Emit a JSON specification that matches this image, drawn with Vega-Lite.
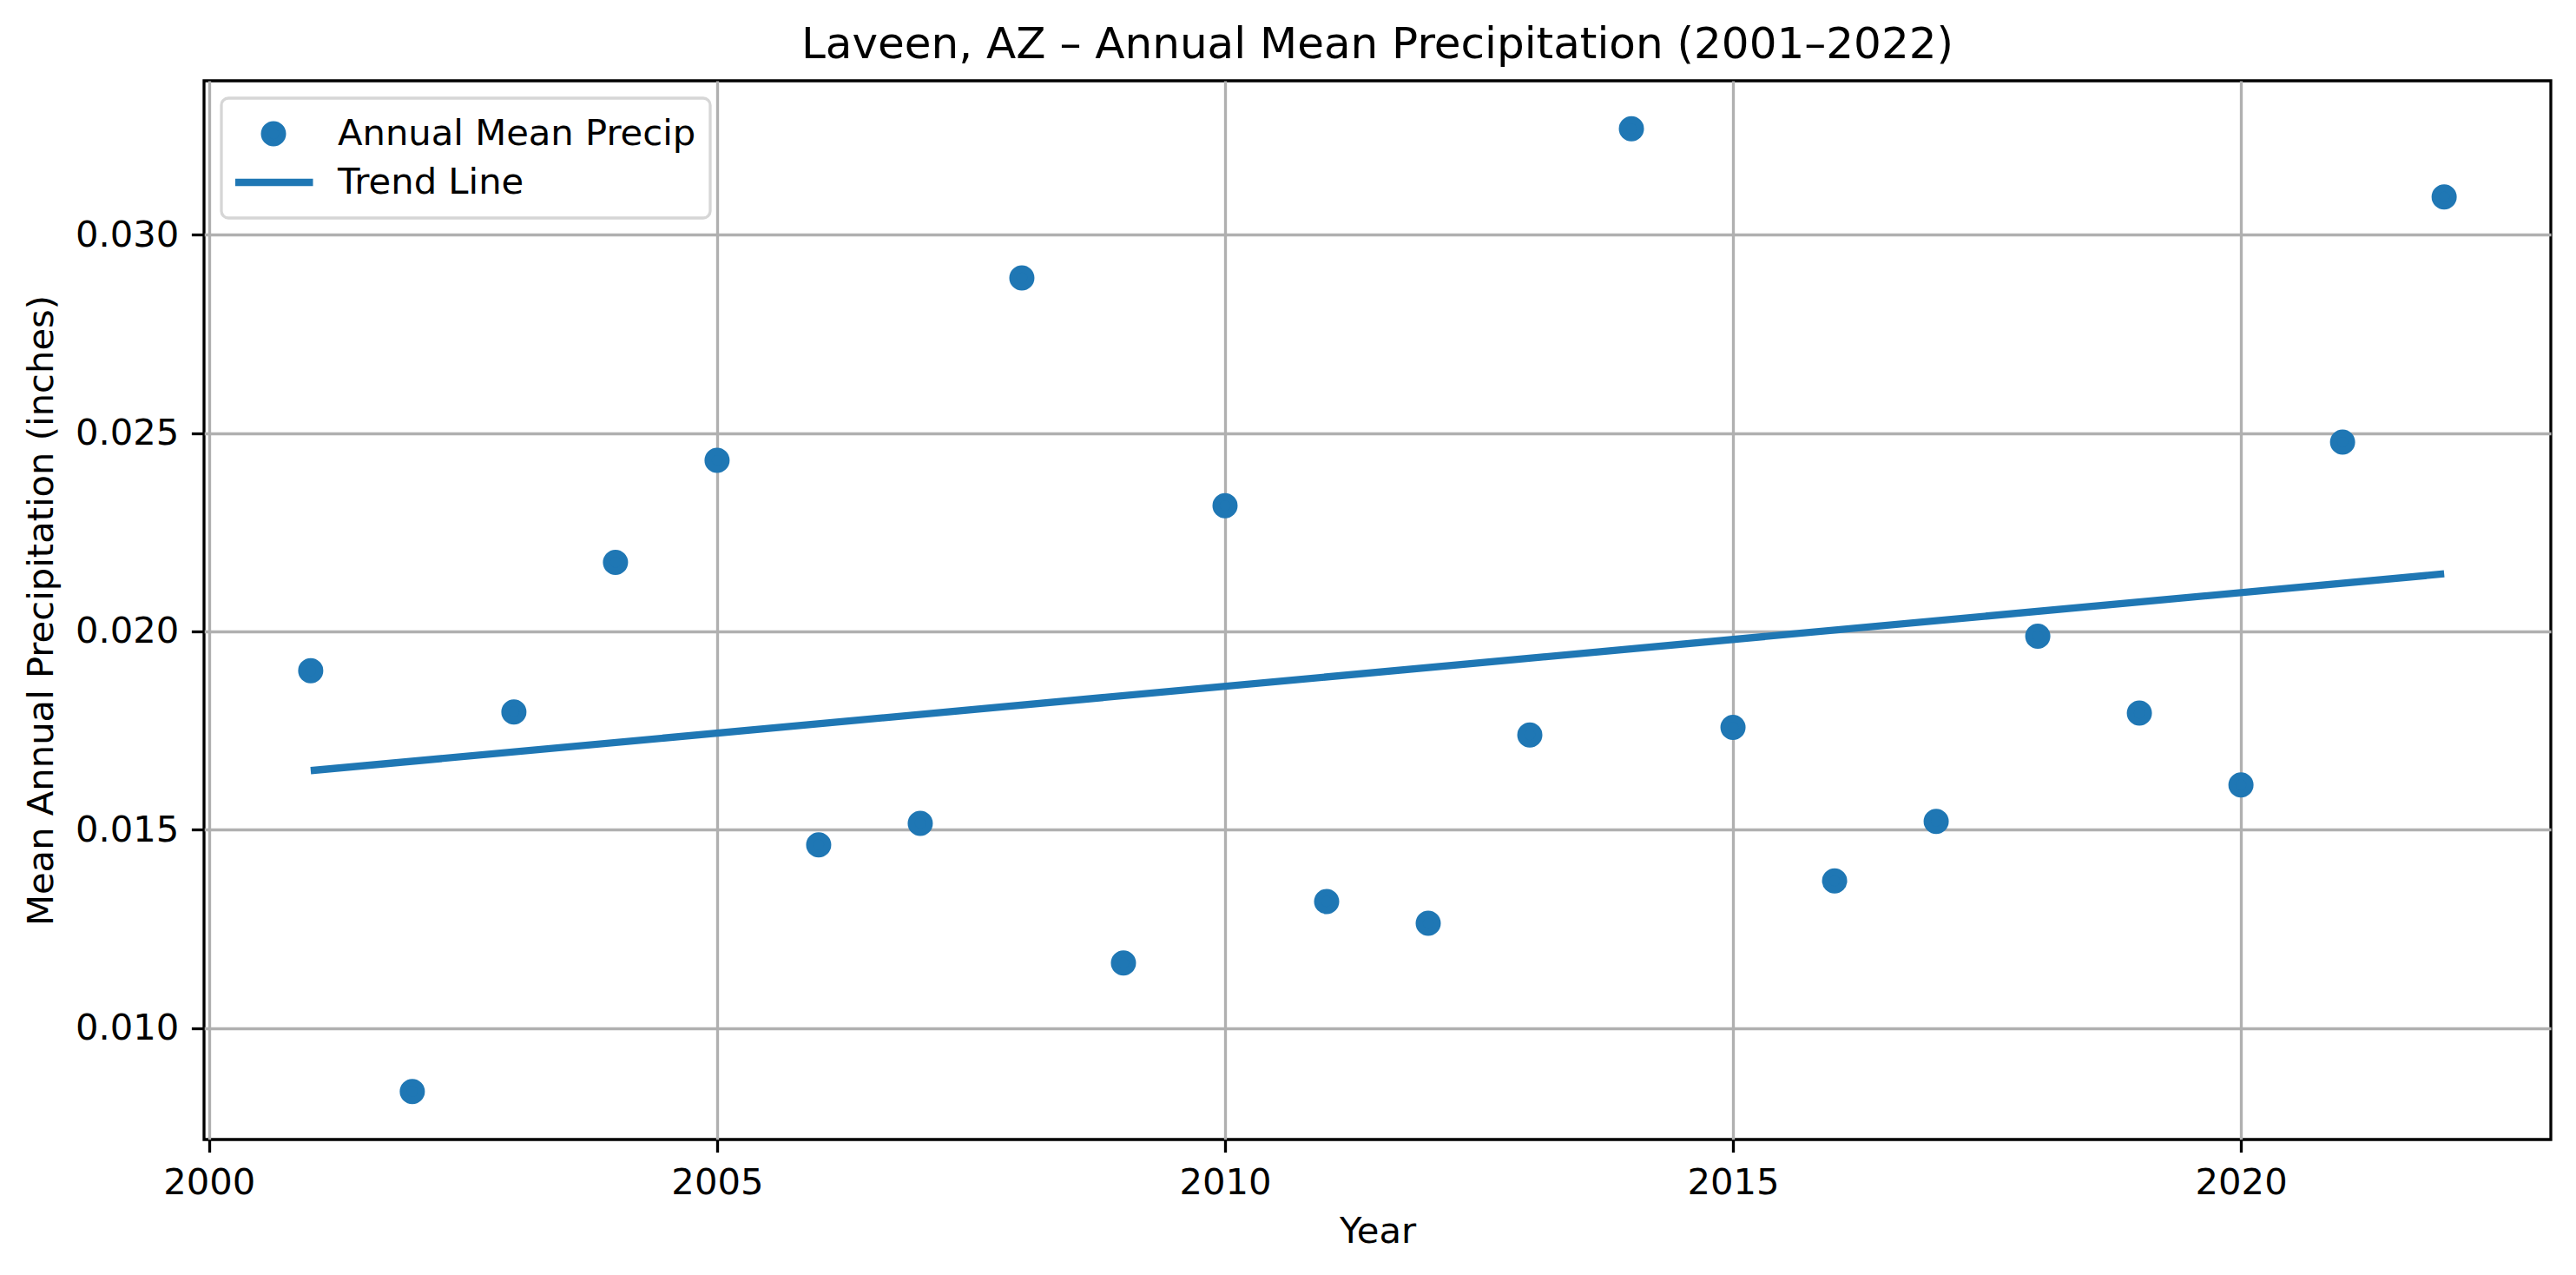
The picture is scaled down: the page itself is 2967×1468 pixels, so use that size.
{
  "$schema": "https://vega.github.io/schema/vega-lite/v6.json",
  "width": 2703,
  "height": 1219,
  "autosize": {"type": "none"},
  "padding": {"left": 235, "top": 93, "right": 29, "bottom": 156},
  "background": "white",
  "title": {
    "text": "Laveen, AZ – Annual Mean Precipitation (2001–2022)",
    "font": "DejaVu Sans",
    "fontSize": 50,
    "fontWeight": "normal",
    "color": "black",
    "anchor": "middle",
    "frame": "group",
    "offset": 25,
    "dy": 49,
    "baseline": "alphabetic"
  },
  "config": {
    "view": {"stroke": "black", "strokeWidth": 3.3},
    "axis": {
      "labelFont": "DejaVu Sans",
      "labelFontSize": 41.7,
      "labelColor": "black",
      "titleFont": "DejaVu Sans",
      "titleFontSize": 41.7,
      "titleFontWeight": "normal",
      "titleColor": "black",
      "tickColor": "black",
      "tickWidth": 3.3,
      "tickSize": 14.6,
      "labelPadding": 14.6,
      "domain": false,
      "grid": true,
      "gridColor": "#b0b0b0",
      "gridWidth": 3.3,
      "zindex": 1,
      "labelFlush": false,
      "labelOverlap": false
    },
    "legend": {
      "title": null,
      "orient": "none",
      "legendX": 20,
      "legendY": 20,
      "labelFont": "DejaVu Sans",
      "labelFontSize": 41.7,
      "labelColor": "black",
      "labelLimit": 0,
      "labelOffset": 24,
      "padding": 16,
      "rowPadding": 6,
      "clipHeight": 50,
      "symbolOffset": -6,
      "symbolStrokeWidth": 8.3,
      "symbolOpacity": 1,
      "strokeColor": "#d6d6d6",
      "strokeWidth": 3.3,
      "fillColor": "rgba(255,255,255,0.8)",
      "cornerRadius": 8
    }
  },
  "datasets": {
    "precip": [
      {"year": 2001, "precip": 0.01901},
      {"year": 2002, "precip": 0.00840},
      {"year": 2003, "precip": 0.01797},
      {"year": 2004, "precip": 0.02174},
      {"year": 2005, "precip": 0.02431},
      {"year": 2006, "precip": 0.01462},
      {"year": 2007, "precip": 0.01516},
      {"year": 2008, "precip": 0.02891},
      {"year": 2009, "precip": 0.01164},
      {"year": 2010, "precip": 0.02317},
      {"year": 2011, "precip": 0.01319},
      {"year": 2012, "precip": 0.01264},
      {"year": 2013, "precip": 0.01739},
      {"year": 2014, "precip": 0.03267},
      {"year": 2015, "precip": 0.01758},
      {"year": 2016, "precip": 0.01371},
      {"year": 2017, "precip": 0.01521},
      {"year": 2018, "precip": 0.01988},
      {"year": 2019, "precip": 0.01794},
      {"year": 2020, "precip": 0.01613},
      {"year": 2021, "precip": 0.02477},
      {"year": 2022, "precip": 0.03095}
    ],
    "trend": [
      {"year": 2001, "precip": 0.01649},
      {"year": 2022, "precip": 0.02145}
    ]
  },
  "layer": [
    {
      "data": {"name": "precip"},
      "mark": {"type": "point", "filled": true, "opacity": 1, "strokeWidth": 8.3},
      "encoding": {
        "x": {
          "field": "year",
          "type": "quantitative",
          "scale": {"domain": [1999.95, 2023.05], "nice": false, "zero": false},
          "axis": {
            "values": [2000, 2005, 2010, 2015, 2020],
            "format": "d",
            "title": "Year",
            "titleX": 1351.5,
            "titleY": 118,
            "titleBaseline": "alphabetic"
          }
        },
        "y": {
          "field": "precip",
          "type": "quantitative",
          "scale": {"domain": [0.00719, 0.03388], "nice": false, "zero": false},
          "axis": {
            "values": [0.01, 0.015, 0.02, 0.025, 0.03],
            "format": ".3f",
            "title": "Mean Annual Precipitation (inches)",
            "titleX": -174.5,
            "titleY": 609.5,
            "titleAngle": -90,
            "titleBaseline": "alphabetic"
          }
        },
        "color": {
          "datum": "Annual Mean Precip",
          "type": "nominal",
          "scale": {"domain": ["Annual Mean Precip", "Trend Line"], "range": ["#1f77b4", "#1f77b4"]}
        },
        "stroke": {
          "datum": "Annual Mean Precip",
          "type": "nominal",
          "scale": {"domain": ["Annual Mean Precip", "Trend Line"], "range": ["#1f77b4", "#1f77b4"]}
        },
        "shape": {
          "datum": "Annual Mean Precip",
          "type": "nominal",
          "scale": {"domain": ["Annual Mean Precip", "Trend Line"], "range": ["circle", "stroke"]}
        },
        "size": {
          "datum": "Annual Mean Precip",
          "type": "nominal",
          "scale": {"type": "ordinal", "domain": ["Annual Mean Precip", "Trend Line"], "range": [428, 8281]}
        }
      }
    },
    {
      "data": {"name": "trend"},
      "mark": {"type": "line", "strokeWidth": 8.3, "color": "#1f77b4"},
      "encoding": {
        "x": {"field": "year", "type": "quantitative"},
        "y": {"field": "precip", "type": "quantitative"}
      }
    }
  ]
}
